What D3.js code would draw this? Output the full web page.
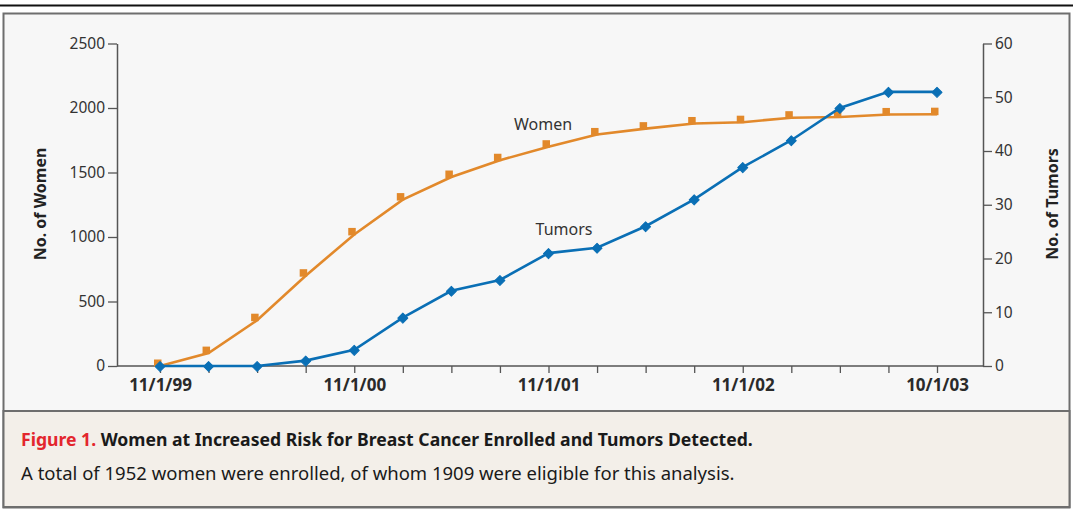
<!DOCTYPE html>
<html>
<head>
    <meta charset="utf-8" />
    <title>Women Enrolled and Tumors Detected</title>
    <script src="https://cdn.jsdelivr.net/npm/d3@7"></script>
    <style type="text/css">
        body { margin: 0; background: #fff; }
        svg { display: block; font-family: "Noto Sans", "Open Sans", sans-serif; }
    </style>
</head>
<body>
<div id="chart"></div>
<script type="text/javascript">
    // quarterly dates on the x axis
    var dates = ["11/1/99", "2/1/00", "5/1/00", "8/1/00", "11/1/00", "2/1/01", "5/1/01", "8/1/01",
        "11/1/01", "2/1/02", "5/1/02", "8/1/02", "11/1/02", "2/1/03", "5/1/03", "8/1/03", "10/1/03"];
    var dateLabels = ["11/1/99", "11/1/00", "11/1/01", "11/1/02", "10/1/03"];
    // cumulative women enrolled (left axis)
    var women = [0, 100, 355, 700, 1020, 1290, 1465, 1595, 1700, 1795, 1840, 1880, 1890, 1925, 1930, 1950, 1952];
    // cumulative tumors detected (right axis)
    var tumors = [0, 0, 0, 1, 3, 9, 14, 16, 21, 22, 26, 31, 37, 42, 48, 51, 51];
    var womenTicks = [0, 500, 1000, 1500, 2000, 2500];
    var tumorTicks = [0, 10, 20, 30, 40, 50, 60];

    var width = 1073, height = 510;
    var orange = "#e2892b", blue = "#0a6fb5";
    var plot = { left: 117, right: 983, top: 43.5, bottom: 366 };

    var svg = d3.select("#chart").append("svg")
        .attr("width", width)
        .attr("height", height);

    // frame
    svg.append("rect").attr("x", 0).attr("y", 4.5).attr("width", width).attr("height", 2).attr("fill", "#111");
    svg.append("rect").attr("x", 3.5).attr("y", 13.5).attr("width", 1066).attr("height", 494)
        .attr("fill", "#f7f7f7").attr("stroke", "#6e6e6e").attr("stroke-width", 2);
    svg.append("rect").attr("x", 3.5).attr("y", 411).attr("width", 1066).attr("height", 96)
        .attr("fill", "#f3efe9").attr("stroke", "#6e6e6e").attr("stroke-width", 2);

    var x = d3.scalePoint().domain(dates).range([160, 937]);
    var yL = d3.scaleLinear().domain([0, 2500]).range([plot.bottom, plot.top]);
    var yR = d3.scaleLinear().domain([0, 60]).range([plot.bottom, plot.top]);

    // x axis
    var gx = svg.append("g")
        .attr("transform", "translate(0," + plot.bottom + ")")
        .call(d3.axisBottom(x).tickSize(7).tickPadding(6)
            .tickFormat(function (d) { return dateLabels.indexOf(d) >= 0 ? d : ""; }));
    gx.select(".domain").remove();
    gx.selectAll(".tick line").attr("stroke", "#555").attr("stroke-width", 1.3);
    gx.selectAll(".tick text").attr("font-size", "17px").attr("font-weight", "bold")
        .attr("font-family", "Noto Sans").attr("fill", "#2a2a2a");
    svg.append("line")
        .attr("x1", plot.left).attr("x2", plot.right)
        .attr("y1", plot.bottom).attr("y2", plot.bottom)
        .attr("stroke", "#555").attr("stroke-width", 1.5);

    // left axis
    var gl = svg.append("g")
        .attr("transform", "translate(" + plot.left + ",0)")
        .call(d3.axisLeft(yL).tickValues(womenTicks).tickFormat(d3.format("d"))
            .tickSize(9).tickSizeOuter(0).tickPadding(3));
    // right axis
    var gr = svg.append("g")
        .attr("transform", "translate(" + plot.right + ",0)")
        .call(d3.axisRight(yR).tickValues(tumorTicks).tickFormat(d3.format("d"))
            .tickSize(9).tickSizeOuter(0).tickPadding(3));
    [gl, gr].forEach(function (g) {
        g.select(".domain").attr("stroke", "#555").attr("stroke-width", 1.5);
        g.selectAll(".tick line").attr("stroke", "#555").attr("stroke-width", 1.3);
        g.selectAll(".tick text").attr("font-size", "15.5px").attr("font-family", "Noto Sans").attr("fill", "#333");
    });

    // axis titles
    svg.append("text")
        .attr("transform", "translate(46,204) rotate(-90)")
        .attr("text-anchor", "middle")
        .attr("font-size", "16px").attr("font-weight", "bold").attr("fill", "#222")
        .text("No. of Women");
    svg.append("text")
        .attr("transform", "translate(1058,204) rotate(-90)")
        .attr("text-anchor", "middle")
        .attr("font-size", "16px").attr("font-weight", "bold").attr("fill", "#222")
        .text("No. of Tumors");

    // women line + square markers
    var lineW = d3.line()
        .x(function (d, i) { return x(dates[i]); })
        .y(function (d) { return yL(d); });
    svg.append("path").datum(women)
        .attr("d", lineW)
        .attr("fill", "none").attr("stroke", orange).attr("stroke-width", 2.6);
    svg.selectAll(".mw").data(women).enter().append("rect")
        .attr("class", "mw")
        .attr("x", function (d, i) { return x(dates[i]) - 6; })
        .attr("y", function (d) { return yL(d) - 6.5; })
        .attr("width", 7.5).attr("height", 7.5)
        .attr("fill", orange);

    // tumors line + diamond markers
    var lineT = d3.line()
        .x(function (d, i) { return x(dates[i]); })
        .y(function (d) { return yR(d); });
    svg.append("path").datum(tumors)
        .attr("d", lineT)
        .attr("fill", "none").attr("stroke", blue).attr("stroke-width", 2.6);
    svg.selectAll(".mt").data(tumors).enter().append("path")
        .attr("class", "mt")
        .attr("d", d3.symbol().type(d3.symbolSquare).size(50))
        .attr("transform", function (d, i) { return "translate(" + x(dates[i]) + "," + (yR(d) + 0.5) + ") rotate(45)"; })
        .attr("fill", blue).attr("stroke", blue).attr("stroke-width", 1).attr("stroke-linejoin", "round");

    // series labels
    svg.append("text").attr("x", 543).attr("y", 130).attr("text-anchor", "middle")
        .attr("font-size", "16px").attr("fill", "#333").text("Women");
    svg.append("text").attr("x", 564).attr("y", 235).attr("text-anchor", "middle")
        .attr("font-size", "16px").attr("fill", "#333").text("Tumors");

    // caption
    var cap = svg.append("text").attr("x", 21).attr("y", 446).attr("font-size", "17.6px");
    cap.append("tspan").attr("fill", "#e3262d").attr("font-weight", "bold").text("Figure 1. ");
    cap.append("tspan").attr("fill", "#1a1a1a").attr("font-weight", "bold")
        .text("Women at Increased Risk for Breast Cancer Enrolled and Tumors Detected.");
    svg.append("text").attr("x", 21).attr("y", 480).attr("font-size", "18.5px").attr("fill", "#1a1a1a")
        .text("A total of 1952 women were enrolled, of whom 1909 were eligible for this analysis.");
</script>
</body>
</html>
